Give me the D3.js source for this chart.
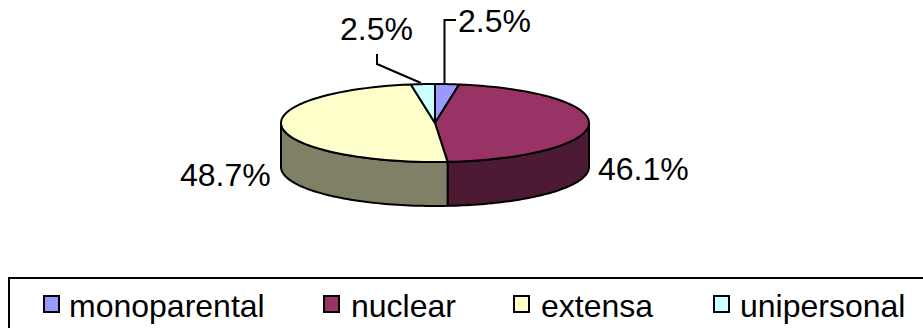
<!DOCTYPE html>
<html><head><meta charset="utf-8">
<script src="https://cdn.jsdelivr.net/npm/d3@7"></script>
<style>html,body{margin:0;background:#fff;overflow:hidden}svg{display:block}text{font-family:"Liberation Sans",Arial,sans-serif;fill:#000}</style>
</head><body><svg id="c" width="923" height="328"></svg>
<script>
const categories = ["monoparental", "nuclear", "extensa", "unipersonal"];
const values = [2.5, 46.1, 48.7, 2.5];
const valueLabels = ["2.5%", "46.1%", "48.7%", "2.5%"];
const topColors = ["#9999ff", "#993366", "#ffffcc", "#ccffff"];
const sideColors = ["#4d4d80", "#4d1a33", "#808066", "#668080"];

const svg = d3.select("#c");
const cx = 435, cy = 123, rx = 154, ry = 39, depth = 44;

// Slice angles clockwise from the back of the disc
const arcs = d3.pie().sort(null).value((d, i) => values[i])(values);
const px = a => cx + rx * Math.sin(a);
const py = a => cy - ry * Math.cos(a);
const stroke = {stroke: "#000", "stroke-width": 2, "stroke-linejoin": "round"};
const applyStroke = s => { for (const k in stroke) s.attr(k, stroke[k]); return s; };
const rimPath = (a0, a1, dy) => {
  const n = 60, pts = d3.range(n + 1).map(i => a0 + (a1 - a0) * i / n);
  return pts.map((a, i) => (i ? "L" : "M") + px(a).toFixed(2) + "," + (py(a) + dy).toFixed(2)).join("");
};

// Side wall: only the front half of the disc (angles 90deg to 270deg) is visible
arcs.forEach((d, i) => {
  const a0 = Math.max(d.startAngle, Math.PI / 2), a1 = Math.min(d.endAngle, 3 * Math.PI / 2);
  if (a1 <= a0) return;
  const back = d3.range(61).map(k => a1 + (a0 - a1) * k / 60)
    .map(a => "L" + px(a).toFixed(2) + "," + py(a).toFixed(2)).join("");
  applyStroke(svg.append("path").attr("d", rimPath(a0, a1, depth) + back + "Z").attr("fill", sideColors[i]));
});

// Top face
arcs.forEach((d, i) => {
  applyStroke(svg.append("path")
    .attr("d", `M${cx},${cy}` + rimPath(d.startAngle, d.endAngle, 0).replace("M", "L") + "Z")
    .attr("fill", topColors[i]));
});

// Value labels and their leader lines
const labelPos = [[458, 32], [598, 180], [180, 186], [340, 40]];
svg.selectAll("text.val").data(valueLabels).join("text").attr("class", "val")
  .attr("x", (d, i) => labelPos[i][0]).attr("y", (d, i) => labelPos[i][1])
  .attr("font-size", 32).text(d => d);
const line = d3.line();
const leaders = [[[444.5, 84], [444.5, 20], [456, 20]], [[421, 83], [377, 64], [377, 54]]];
leaders.forEach(l => svg.append("path").attr("d", line(l)).attr("fill", "none").attr("stroke", "#000").attr("stroke-width", 2));

// Legend frame runs past the right and bottom edges of the canvas
svg.append("rect").attr("x", 9).attr("y", 278).attr("width", 930).attr("height", 70)
  .attr("fill", "none").attr("stroke", "#000").attr("stroke-width", 2);
const legendX = [44, 324, 514, 714];
const legendTextX = [69, 351, 541, 740];
categories.forEach((c, i) => {
  svg.append("rect").attr("x", legendX[i]).attr("y", 296).attr("width", 15).attr("height", 16)
    .attr("fill", topColors[i]).attr("stroke", "#000").attr("stroke-width", 2);
  svg.append("text").attr("x", legendTextX[i]).attr("y", 317).attr("font-size", 32).text(c);
});
</script></body></html>
